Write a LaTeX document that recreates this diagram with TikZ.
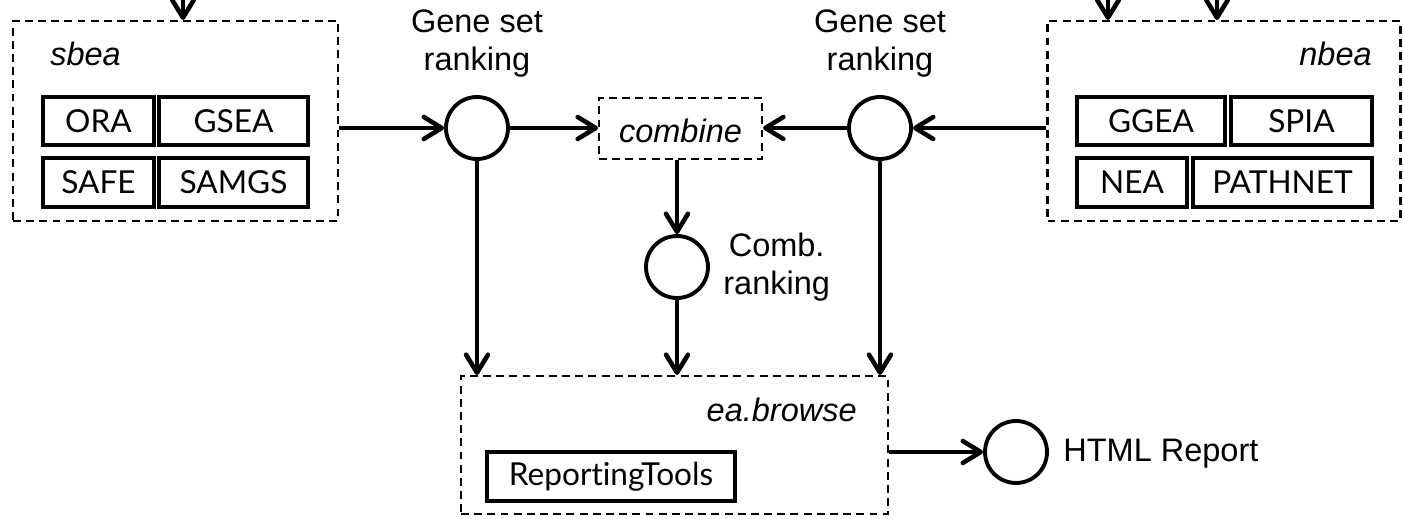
\documentclass[tikz,border=0pt]{standalone}
\usepackage{fontspec}
\setmainfont{Liberation Sans}
\newfontfamily\boxfont[Ligatures={NoCommon}]{Lato}
\usetikzlibrary{arrows.meta}

\tikzset{
  group/.style={draw, line width=1.2pt, dash pattern=on 4.5pt off 3pt, inner sep=0pt},
  method/.style={draw, line width=2.2pt, inner sep=0pt, minimum height=0.97cm,
    font=\boxfont\fontsize{18}{21}\selectfont},
  ranking/.style={draw, circle, line width=2.2pt, minimum size=1.24cm, inner sep=0pt},
  lbl/.style={font=\fontsize{18.5}{21.6}\selectfont, align=center, inner sep=0pt},
  ilbl/.style={font=\fontsize{18.5}{21.6}\selectfont\itshape, inner sep=0pt},
  flow/.style={line width=2.6pt, -{Straight Barb[length=3.6mm, width=4.4mm, round]}},
}

\begin{document}
\begin{tikzpicture}[x=0.02cm, y=-0.02cm]
  \useasboundingbox (0,0) rectangle (1403,519);
  \clip (0,0) rectangle (1403,519);

  % set-based enrichment analysis
  \node[group, minimum width=6.5cm, minimum height=4cm] (sbea) at (175.5,121) {};
  \node[ilbl, anchor=west] (sbealbl) at (50,54) {sbea};
  \node[method, minimum width=2.22cm] (ora)   at (98.5,121)   {ORA};
  \node[method, minimum width=2.98cm] (gsea)  at (233.5,121)  {GSEA};
  \node[method, minimum width=2.22cm] (safe)  at (98.5,182.5) {SAFE};
  \node[method, minimum width=2.98cm] (samgs) at (233.5,182.5) {SAMGS};

  % network-based enrichment analysis
  \node[group, minimum width=7.06cm, minimum height=4cm] (nbea) at (1224,121) {};
  \node[ilbl, anchor=east] (nbealbl) at (1372,54) {nbea};
  \node[method, minimum width=2.96cm] (ggea)    at (1151,121)    {GGEA};
  \node[method, minimum width=2.82cm] (spia)    at (1301.5,121)  {SPIA};
  \node[method, minimum width=2.2cm]  (nea)     at (1132,182.5)  {NEA};
  \node[method, minimum width=3.58cm] (pathnet) at (1282.5,182.5) {PATHNET};

  % rankings and combination
  \node[ranking] (gsl) at (477,128) {};
  \node[ranking] (gsr) at (880,128) {};
  \node[lbl] (gsllbl) at (477,44) {Gene set\\ranking};
  \node[lbl] (gsrlbl) at (880,44) {Gene set\\ranking};
  \node[group, minimum width=3.26cm, minimum height=1.22cm] (combine) at (680.5,128.5) {};
  \node[ilbl] (combinelbl) at (680.5,131) {combine};
  \node[ranking] (comb) at (677,267) {};
  \node[lbl, anchor=west] (comblbl) at (723,267) {Comb.\\ranking};

  % browsing and report
  \node[group, minimum width=8.54cm, minimum height=2.76cm] (eab) at (674.5,445) {};
  \node[ilbl, anchor=east] (eablbl) at (857,410) {ea.browse};
  \node[method, minimum width=4.96cm] (rt) at (611,476.5) {ReportingTools};
  \node[ranking] (html) at (1016,452) {};
  \node[lbl, anchor=west] (htmllbl) at (1063,454) {HTML Report};

  % incoming inputs from above
  \coordinate (insb)  at (183,-30);
  \coordinate (innb1) at (1108,-30);
  \coordinate (innb2) at (1217,-30);
  \draw[flow] (insb)  -- (insb  |- sbea.north);
  \draw[flow] (innb1) -- (innb1 |- nbea.north);
  \draw[flow] (innb2) -- (innb2 |- nbea.north);

  % connectors
  \draw[flow] (sbea.east |- gsl.west) -- (gsl.west);
  \draw[flow] (gsl.east) -- (combine.west |- gsl.east);
  \draw[flow] (nbea.west |- gsr.east) -- (gsr.east);
  \draw[flow] (gsr.west) -- (combine.east |- gsr.west);
  \draw[flow] (comb.north |- combine.south) -- (comb.north);
  \draw[flow] (gsl.south) -- (gsl.south |- eab.north);
  \draw[flow] (comb.south) -- (comb.south |- eab.north);
  \draw[flow] (gsr.south) -- (gsr.south |- eab.north);
  \draw[flow] (eab.east |- html.west) -- (html.west);
\end{tikzpicture}
\end{document}
